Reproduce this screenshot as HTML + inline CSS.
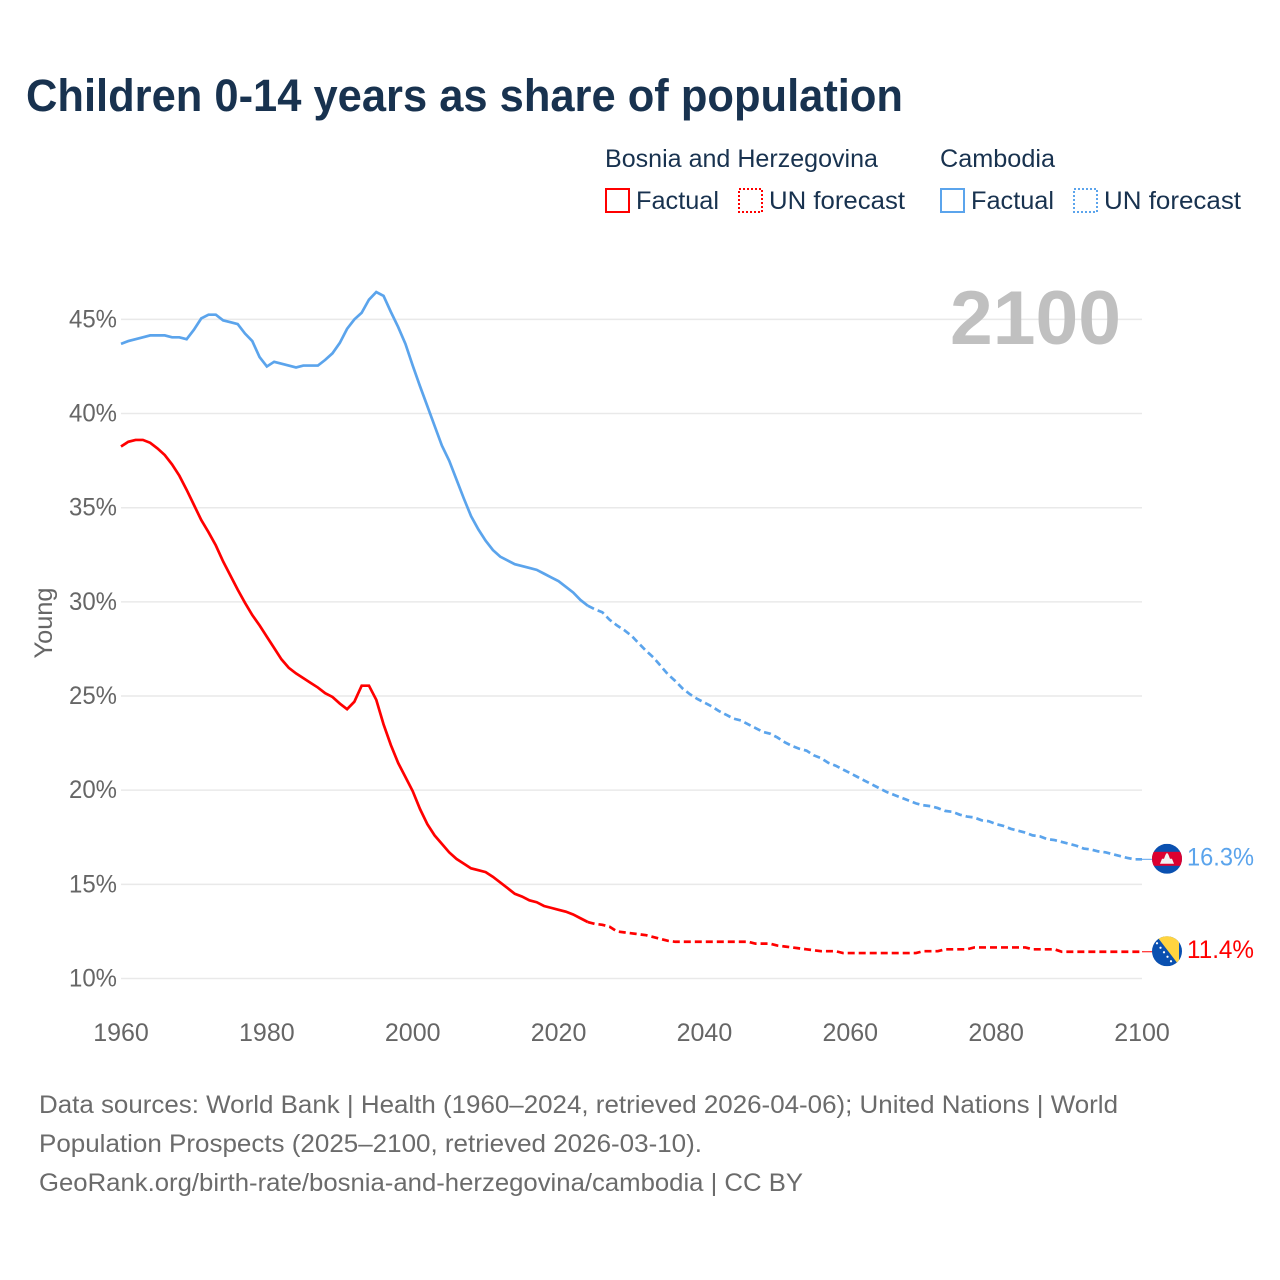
<!DOCTYPE html>
<html lang="en">
<head>
<meta charset="utf-8">
<title>Children 0-14 years as share of population</title>
<style>
  html, body { margin: 0; padding: 0; background: #fff; }
  svg { display: block; font-family: "Liberation Sans", sans-serif; }
  .legend-text { fill: #18324f; font-size: 25px; }
  .source { fill: #6b6b6b; font-size: 25px; }
  .tick { fill: #666; font-size: 25px; }
</style>
</head>
<body>
<svg id="chart" xmlns="http://www.w3.org/2000/svg" width="1280" height="1280" viewBox="0 0 1280 1280">
  <rect x="0" y="0" width="1280" height="1280" fill="#fff"/>
  <text x="26" y="111" font-size="45" font-weight="700" fill="#18324f" textLength="877" lengthAdjust="spacingAndGlyphs">Children 0-14 years as share of population</text>

  <g>
    <text class="legend-text" x="605" y="167" textLength="273" lengthAdjust="spacingAndGlyphs">Bosnia and Herzegovina</text>
    <rect x="606" y="189" width="23" height="23" fill="none" stroke="#ff0000" stroke-width="2"/>
    <text class="legend-text" x="636" y="209" textLength="83" lengthAdjust="spacingAndGlyphs">Factual</text>
    <rect x="739" y="189" width="23" height="23" fill="none" stroke="#ff0000" stroke-width="2" stroke-dasharray="2 2"/>
    <text class="legend-text" x="769" y="209" textLength="136" lengthAdjust="spacingAndGlyphs">UN forecast</text>

    <text class="legend-text" x="940" y="167" textLength="115" lengthAdjust="spacingAndGlyphs">Cambodia</text>
    <rect x="941" y="189" width="23" height="23" fill="none" stroke="#5ba4ec" stroke-width="2"/>
    <text class="legend-text" x="971" y="209" textLength="83" lengthAdjust="spacingAndGlyphs">Factual</text>
    <rect x="1074" y="189" width="23" height="23" fill="none" stroke="#5ba4ec" stroke-width="2" stroke-dasharray="2 2"/>
    <text class="legend-text" x="1104" y="209" textLength="137" lengthAdjust="spacingAndGlyphs">UN forecast</text>
  </g>

  <g id="grid"></g>
  <text x="950" y="344" font-size="76" font-weight="700" fill="#c0c0c0" textLength="171" lengthAdjust="spacingAndGlyphs">2100</text>
  <g id="yticks"></g>
  <g id="xticks"></g>
  <text transform="translate(52,623) rotate(-90)" text-anchor="middle" font-size="25" fill="#666" textLength="71" lengthAdjust="spacingAndGlyphs">Young</text>

  <g id="series"></g>

  <defs>
    <clipPath id="flag-clip"><circle cx="0" cy="0" r="15"/></clipPath>
  </defs>
  <g id="flag-cambodia">
    <g clip-path="url(#flag-clip)">
      <rect x="-15" y="-15" width="30" height="30" fill="#0a50b0"/>
      <rect x="-15" y="-7" width="30" height="14" fill="#dc0030"/>
      <path d="M-7 5 L-5 0 L-3 0 L-1.500 -4 L0 -6 L1.500 -4 L3 0 L5 0 L7 5 Z" fill="#f2f2f2"/>
    </g>
  </g>
  <g id="flag-bosnia">
    <g clip-path="url(#flag-clip)">
      <rect x="-15" y="-15" width="30" height="30" fill="#0a50b0"/>
      <path d="M-11 -16 L12 -16 L12 14 Z" fill="#ffd440"/>
      <g fill="#fff">
        <circle cx="-10" cy="-8" r="1.100"/>
        <circle cx="-6.500" cy="-3.500" r="1.100"/>
        <circle cx="-3" cy="1" r="1.100"/>
        <circle cx="0.500" cy="5.500" r="1.100"/>
        <circle cx="4" cy="10" r="1.100"/>
      </g>
    </g>
  </g>
  <text id="label-cambodia" x="1187" font-size="25" fill="#5ba4ec" textLength="67" lengthAdjust="spacingAndGlyphs"></text>
  <text id="label-bosnia" x="1187" font-size="25" fill="#ff0000" textLength="67" lengthAdjust="spacingAndGlyphs"></text>

  <g>
    <text class="source" x="39" y="1113" textLength="1079" lengthAdjust="spacingAndGlyphs">Data sources: World Bank | Health (1960–2024, retrieved 2026-04-06); United Nations | World</text>
    <text class="source" x="39" y="1152" textLength="663" lengthAdjust="spacingAndGlyphs">Population Prospects (2025–2100, retrieved 2026-03-10).</text>
    <text class="source" x="39" y="1191" textLength="764" lengthAdjust="spacingAndGlyphs">GeoRank.org/birth-rate/bosnia-and-herzegovina/cambodia | CC BY</text>
  </g>
</svg>

<script>
var xTicks = [1960, 1980, 2000, 2020, 2040, 2060, 2080, 2100];
var yTicks = [10, 15, 20, 25, 30, 35, 40, 45];
var firstFactualYear = 1960;
var firstForecastYear = 2025;

var cambodiaFactual = [
  43.7, 43.85, 43.95, 44.05, 44.15, 44.15, 44.15, 44.05, 44.05, 43.95,
  44.45, 45.05, 45.25, 45.25, 44.95, 44.85, 44.75, 44.25, 43.85, 43.0,
  42.5, 42.75, 42.65, 42.55, 42.45, 42.55, 42.55, 42.55, 42.85, 43.2,
  43.75, 44.5, 45.0, 45.35, 46.05, 46.45, 46.25, 45.4, 44.6, 43.7,
  42.55, 41.45, 40.4, 39.35, 38.3, 37.5, 36.5, 35.5, 34.55, 33.85,
  33.25, 32.75, 32.4, 32.2, 32.0, 31.9, 31.8, 31.7, 31.5, 31.3,
  31.1, 30.8, 30.5, 30.1, 29.8
];
var cambodiaForecast = [
  29.6, 29.45, 29.05, 28.75, 28.5, 28.2,
  27.8, 27.4, 27.05, 26.6, 26.15, 25.8, 25.4, 25.1, 24.85, 24.65,
  24.45, 24.2, 24.0, 23.8, 23.7, 23.5, 23.3, 23.1, 23.0, 22.8,
  22.55, 22.35, 22.2, 22.1, 21.85, 21.7, 21.45, 21.3, 21.1, 20.9,
  20.7, 20.5, 20.3, 20.1, 19.9, 19.75, 19.6, 19.45, 19.3, 19.2,
  19.15, 19.05, 18.9, 18.85, 18.7, 18.6, 18.55, 18.4, 18.35, 18.2,
  18.1, 17.95, 17.85, 17.75, 17.6, 17.55, 17.4, 17.35, 17.25, 17.15,
  17.05, 16.9, 16.85, 16.75, 16.7, 16.6, 16.5, 16.4, 16.33, 16.33
];
var bosniaFactual = [
  38.25, 38.5, 38.6, 38.6, 38.45, 38.15, 37.8, 37.3, 36.7, 35.95,
  35.15, 34.35, 33.7, 33.0, 32.15, 31.4, 30.65, 29.95, 29.3, 28.75,
  28.15, 27.55, 26.95, 26.5, 26.2, 25.95, 25.7, 25.45, 25.15, 24.95,
  24.6, 24.3, 24.7, 25.55, 25.55, 24.8, 23.5, 22.4, 21.45, 20.7,
  19.95, 19.0, 18.2, 17.6, 17.15, 16.7, 16.35, 16.1, 15.85, 15.75,
  15.65, 15.4, 15.1, 14.8, 14.5, 14.35, 14.15, 14.05, 13.85, 13.75,
  13.65, 13.55, 13.4, 13.2, 13.0
];
var bosniaForecast = [
  12.9, 12.85, 12.75, 12.5, 12.45, 12.4,
  12.35, 12.3, 12.2, 12.1, 12.0, 11.95, 11.95, 11.95, 11.95, 11.95,
  11.95, 11.95, 11.95, 11.95, 11.95, 11.95, 11.85, 11.85, 11.85, 11.75,
  11.7, 11.65, 11.6, 11.55, 11.5, 11.45, 11.45, 11.45, 11.35, 11.35,
  11.35, 11.35, 11.35, 11.35, 11.35, 11.35, 11.35, 11.35, 11.35, 11.45,
  11.45, 11.45, 11.55, 11.55, 11.55, 11.55, 11.65, 11.65, 11.65, 11.65,
  11.65, 11.65, 11.65, 11.65, 11.55, 11.55, 11.55, 11.55, 11.42, 11.42,
  11.42, 11.42, 11.42, 11.42, 11.42, 11.42, 11.42, 11.42, 11.42, 11.42
];

var SVG_NS = 'http://www.w3.org/2000/svg';
function xScale(year) { return 121 + (year - 1960) * (1142 - 121) / 140; }
function yScale(v) { return 978.5 - (v - 10) * (978.5 - 319.4) / 35; }
function svgEl(tag) { return document.createElementNS(SVG_NS, tag); }

var gridGroup = document.getElementById('grid');
var yTickGroup = document.getElementById('yticks');
var xTickGroup = document.getElementById('xticks');
var seriesGroup = document.getElementById('series');

yTicks.forEach(function (t) {
  var line = svgEl('line');
  
  
  line.setAttribute('x1', 121);
  line.setAttribute('x2', 1142);
  line.setAttribute('y1', yScale(t));
  line.setAttribute('y2', yScale(t));
  line.setAttribute('stroke', '#e9e9e9');
  line.setAttribute('stroke-width', 1.5);
  gridGroup.appendChild(line);

  var label = svgEl('text');
  
  
  label.setAttribute('class', 'tick');
  label.setAttribute('x', 69);
  label.setAttribute('y', yScale(t) + 8);
  label.setAttribute('textLength', 48);
  label.setAttribute('lengthAdjust', 'spacingAndGlyphs');
  label.textContent = t + '%';
  yTickGroup.appendChild(label);
});

xTicks.forEach(function (t) {
  var label = svgEl('text');
  
  
  label.setAttribute('class', 'tick');
  label.setAttribute('x', xScale(t));
  label.setAttribute('y', 1041);
  label.setAttribute('text-anchor', 'middle');
  label.textContent = t;
  xTickGroup.appendChild(label);
});

function pathFrom(points) {
  return points.map(function (p, i) {
    return (i ? 'L' : 'M') + xScale(p[0]).toFixed(2) + ' ' + yScale(p[1]).toFixed(2);
  }).join(' ');
}

function drawCountry(name, color, factual, forecast) {
  var factualPts = factual.map(function (v, i) { return [firstFactualYear + i, v]; });
  var forecastPts = forecast.map(function (v, i) { return [firstForecastYear + i, v]; });
  forecastPts.unshift(factualPts[factualPts.length - 1]);

  var solid = svgEl('path');
  
  
  solid.setAttribute('d', pathFrom(factualPts));
  solid.setAttribute('fill', 'none');
  solid.setAttribute('stroke', color);
  solid.setAttribute('stroke-width', 2.7);
  seriesGroup.appendChild(solid);

  var dashed = svgEl('path');
  
  
  dashed.setAttribute('d', pathFrom(forecastPts));
  dashed.setAttribute('fill', 'none');
  dashed.setAttribute('stroke', color);
  dashed.setAttribute('stroke-width', 2.7);
  dashed.setAttribute('stroke-dasharray', '7 4');
  seriesGroup.appendChild(dashed);

  var last = forecast[forecast.length - 1];
  var endY = yScale(last);

  var connector = svgEl('line');
  
  
  connector.setAttribute('x1', xScale(2100));
  connector.setAttribute('x2', 1153);
  connector.setAttribute('y1', endY);
  connector.setAttribute('y2', endY);
  connector.setAttribute('stroke', color);
  connector.setAttribute('stroke-width', 1);
  seriesGroup.appendChild(connector);

  document.getElementById('flag-' + name).setAttribute('transform', 'translate(1167,' + (endY - 0.5).toFixed(2) + ')');
  var endLabel = document.getElementById('label-' + name);
  endLabel.setAttribute('y', (endY + 6).toFixed(2));
  endLabel.textContent = last.toFixed(1) + '%';
}

drawCountry('bosnia', '#ff0000', bosniaFactual, bosniaForecast);
drawCountry('cambodia', '#5ba4ec', cambodiaFactual, cambodiaForecast);
</script>
</body>
</html>
